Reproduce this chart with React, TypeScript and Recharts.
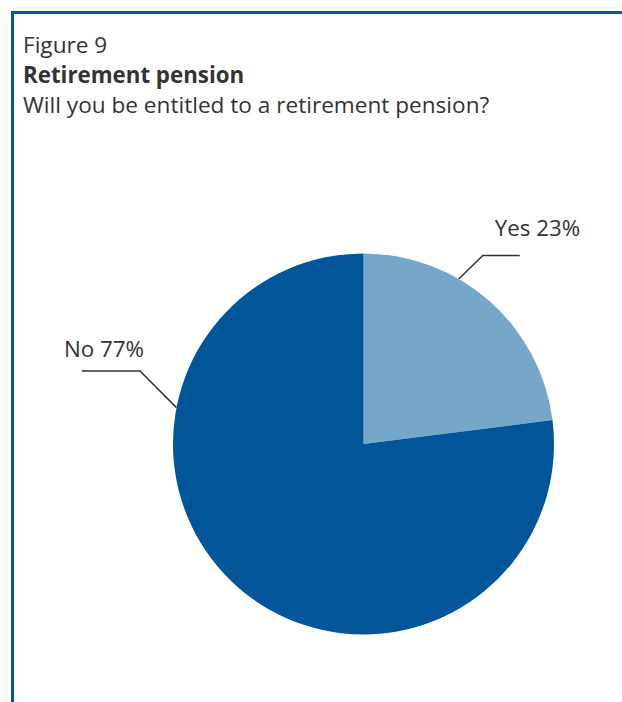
import { PieChart, Pie, Cell } from "recharts";

const categories = ["Yes", "No"];
const shares = [23, 77];
const sliceColors = ["#75A7C9", "#005699"];

const data = categories.map((name, i) => ({ name, value: shares[i], color: sliceColors[i] }));

const BLUE = "#0058A0";
const TEXT = "#333333";
const FONT = "'Open Sans', 'Noto Sans', sans-serif";

// where each leader line leaves the pie (degrees, recharts convention) and how it bends
const leaders = [
  { angle: 60, elbow: [24, -23.5], end: [61, -23.5], text: [36, -43] },
  { angle: 169, elbow: [-36.5, -36.7], end: [-94.5, -36.7], text: [-112.5, -50.7] },
];

function LeaderLabel(props: any) {
  const { cx, cy, outerRadius, index, name, value } = props;
  const l = leaders[index];
  const rad = (l.angle * Math.PI) / 180;
  const x0 = cx + outerRadius * Math.cos(rad);
  const y0 = cy - outerRadius * Math.sin(rad);
  return (
    <g>
      <polyline
        points={`${x0},${y0} ${x0 + l.elbow[0]},${y0 + l.elbow[1]} ${x0 + l.end[0]},${y0 + l.end[1]}`}
        fill="none"
        stroke="#333"
        strokeWidth={1.5}
      />
      <text
        x={x0 + l.text[0]}
        y={y0 + l.text[1]}
        fill={TEXT}
        fontFamily={FONT}
        fontWeight={400}
        fontSize={22.3}
      >
        {`${name} ${value}%`}
      </text>
    </g>
  );
}

export default function App() {
  return (
    <div style={{ position: "absolute", left: 0, top: 0, width: 622, height: 702, background: "#fff" }}>
      <div
        style={{
          position: "absolute",
          left: 23,
          top: 11,
          width: 611,
          height: 691,
          borderTop: `3px solid ${BLUE}`,
          borderLeft: `3px solid ${BLUE}`,
          boxSizing: "border-box",
          marginLeft: -12,
        }}
      />
      <div
        style={{
          position: "absolute",
          left: 23,
          top: 30,
          fontFamily: FONT,
          fontSize: 22.6,
          lineHeight: "30px",
          color: TEXT,
          fontWeight: 400,
          whiteSpace: "nowrap",
        }}
      >
        <div>Figure 9</div>
        <div style={{ fontWeight: 700, fontSize: 22.3 }}>Retirement pension</div>
        <div>Will you be entitled to a retirement pension?</div>
      </div>
      <div style={{ position: "absolute", left: 0, top: 0 }}>
        <PieChart width={622} height={702} margin={{ top: 0, right: 0, bottom: 0, left: 0 }}>
          <Pie
            data={data}
            dataKey="value"
            nameKey="name"
            cx={363.5}
            cy={444}
            outerRadius={190.5}
            startAngle={90}
            endAngle={-270}
            stroke="none"
            label={<LeaderLabel />}
            labelLine={false}
            isAnimationActive={false}
          >
            {data.map((d, i) => (
              <Cell key={i} fill={d.color} />
            ))}
          </Pie>
        </PieChart>
      </div>
    </div>
  );
}
